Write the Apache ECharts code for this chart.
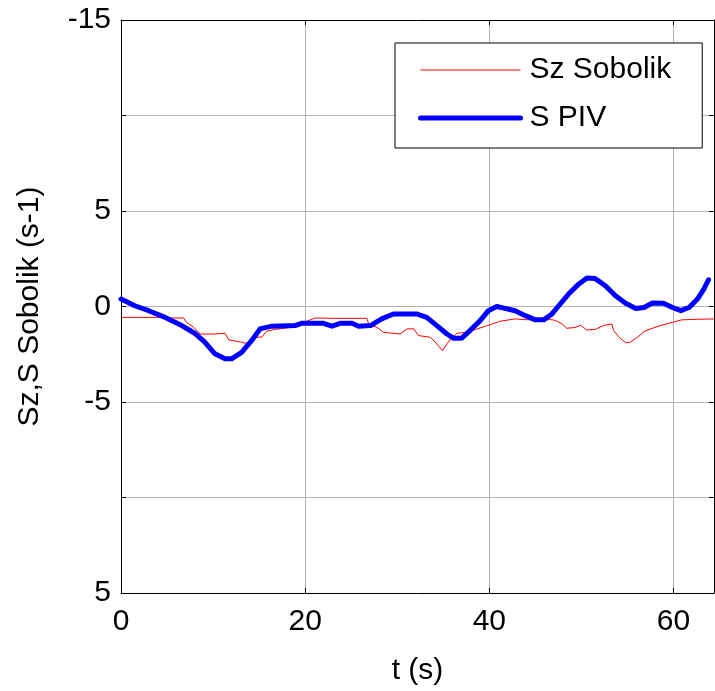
<!DOCTYPE html>
<html>
<head>
<meta charset="utf-8">
<script src="https://cdn.jsdelivr.net/npm/echarts@6/dist/echarts.min.js"></script>
<style>
html,body{margin:0;padding:0;background:#fff;}
#chart{width:715px;height:691px;}
</style>
</head>
<body>
<div id="chart"></div>
<script>
// Tick labels as printed on the reference y axis (values -15..15 step 5)
var yTickValues = [-15, -10, -5, 0, 5, 10, 15];
var yTickLabels = ['5', '', '-5', '0', '5', '', '-15'];
var xTickLabels = ['0', '20', '40', '60'];

// Sz Sobolik (red, thin)
var redT = [0, 2, 4, 5.1, 6.8, 7.1, 7.9, 8.6, 10.2, 11.3, 11.7, 13.1, 13.6, 14.2, 14.6, 15.3, 15.8, 16.7, 18.9, 19.6, 21.1, 23, 26.7, 26.9, 27.8, 28.5, 30.3, 31.1, 31.8, 32.3, 33.6, 34.3, 34.9, 35.4, 35.8, 36.5, 37.6, 38.7, 40.1, 41.2, 42.8, 44, 46.8, 47.2, 47.9, 48.4, 49.3, 49.9, 50.6, 51.5, 52.4, 53.3, 53.5, 54.1, 54.8, 55.3, 56.1, 56.8, 57.7, 58.8, 59.9, 60.9, 62.5, 64.4];
var redS = [-0.57, -0.57, -0.57, -0.6, -0.6, -0.83, -1.09, -1.44, -1.44, -1.4, -1.75, -1.87, -1.93, -1.75, -1.61, -1.6, -1.3, -1.2, -1.07, -0.88, -0.6, -0.62, -0.62, -0.91, -1.09, -1.35, -1.44, -1.17, -1.17, -1.52, -1.61, -1.96, -2.31, -1.96, -1.7, -1.4, -1.35, -1.17, -0.95, -0.77, -0.65, -0.69, -0.69, -0.74, -0.91, -1.14, -1.1, -0.98, -1.23, -1.2, -1.0, -0.91, -1.26, -1.61, -1.9, -1.87, -1.61, -1.31, -1.14, -0.97, -0.83, -0.7, -0.67, -0.65];

// S PIV (blue, thick)
var blueT = [0, 1.5, 3, 4.8, 6.6, 8, 9.1, 10.2, 11.3, 12, 13.1, 14.2, 15.1, 16.4, 18.9, 19.6, 22, 22.9, 23.8, 25.1, 25.8, 27.1, 28.3, 29.6, 32.1, 33.2, 34.3, 35.4, 36.1, 37, 37.9, 39, 39.9, 40.8, 41.7, 42.8, 43.9, 45, 45.9, 46.8, 47.7, 48.6, 49.7, 50.6, 51.5, 52.6, 53.7, 54.8, 55.9, 56.8, 57.7, 58.9, 59.9, 60.8, 61.7, 62.6, 63.3, 63.8];
var blueS = [0.39, 0.04, -0.22, -0.57, -1.0, -1.4, -1.87, -2.48, -2.74, -2.74, -2.4, -1.78, -1.17, -1.03, -1.0, -0.88, -0.88, -1.03, -0.88, -0.88, -1.03, -1.0, -0.65, -0.39, -0.39, -0.57, -1.0, -1.44, -1.66, -1.66, -1.26, -0.74, -0.22, 0.0, -0.1, -0.22, -0.48, -0.7, -0.7, -0.39, 0.13, 0.65, 1.17, 1.49, 1.46, 1.09, 0.56, 0.17, -0.1, -0.05, 0.18, 0.17, -0.05, -0.22, -0.05, 0.39, 0.91, 1.4];

function zip(a, b) { return a.map(function (v, i) { return [v, b[i]]; }); }

var FONT = "'Liberation Sans', Arial, sans-serif";
var tickStyle = { show: true, inside: true, length: 5, lineStyle: { color: '#000', width: 1 } };
var axisLine = { show: true, onZero: false, lineStyle: { color: '#000', width: 1 } };
var gridLine = { show: true, lineStyle: { color: '#b4b4b4', width: 1, type: 'solid' } };

function yLabel(v) {
  for (var i = 0; i < yTickValues.length; i++) {
    if (Math.abs(yTickValues[i] - v) < 1e-6) return yTickLabels[i];
  }
  return '';
}
function xLabel(v) {
  var idx = Math.round(v / 20);
  if (Math.abs(v - idx * 20) < 1e-6 && idx < xTickLabels.length) return xTickLabels[idx];
  return '';
}

var chart = echarts.init(document.getElementById('chart'), null, { renderer: 'canvas' });
chart.setOption({
  animation: false,
  backgroundColor: '#fff',
  textStyle: { fontFamily: FONT },
  grid: { left: 121, right: 1, top: 20, bottom: 96, containLabel: false },
  legend: {
    orient: 'vertical',
    left: 395,
    top: 43,
    padding: [12, 31, 15, 23],
    itemWidth: 100,
    itemHeight: 30,
    itemGap: 18,
    borderColor: '#000',
    borderWidth: 1,
    backgroundColor: '#fff',
    textStyle: { fontSize: 30, color: '#000', fontFamily: FONT, padding: [0, 0, 0, 4] },
    lineStyle: { width: 'inherit' },
    itemStyle: { opacity: 0 },
    data: ['Sz Sobolik', 'S PIV']
  },
  xAxis: [{
    type: 'value', min: 0, max: 64.4, interval: 20, position: 'bottom',
    name: 't (s)', nameLocation: 'middle', nameGap: 63,
    nameTextStyle: { fontSize: 30, color: '#000', fontFamily: FONT },
    axisLine: axisLine, axisTick: tickStyle, splitLine: gridLine,
    axisLabel: { fontSize: 30, color: '#000', margin: 14, fontFamily: FONT, formatter: xLabel, showMaxLabel: false }
  }, {
    type: 'value', min: 0, max: 64.4, interval: 20, position: 'top',
    axisLine: axisLine, axisTick: tickStyle, splitLine: { show: false },
    axisLabel: { show: false }
  }],
  yAxis: [{
    type: 'value', min: -15, max: 15, interval: 5, position: 'left',
    name: 'Sz,S Sobolik (s-1)', nameLocation: 'middle', nameGap: 76, nameRotate: 90,
    nameTextStyle: { fontSize: 30, color: '#000', fontFamily: FONT },
    axisLine: axisLine, axisTick: tickStyle, splitLine: gridLine,
    axisLabel: { fontSize: 30, color: '#000', margin: 10, fontFamily: FONT, formatter: yLabel }
  }, {
    type: 'value', min: -15, max: 15, interval: 5, position: 'right',
    axisLine: axisLine, axisTick: tickStyle, splitLine: { show: false },
    axisLabel: { show: false }
  }],
  series: [{
    name: 'Sz Sobolik', type: 'line', xAxisIndex: 0, yAxisIndex: 0,
    data: zip(redT, redS), showSymbol: false, symbol: 'none',
    lineStyle: { color: '#ff0000', width: 1 }, itemStyle: { color: '#ff0000' }, z: 3
  }, {
    name: 'S PIV', type: 'line', xAxisIndex: 0, yAxisIndex: 0,
    data: zip(blueT, blueS), showSymbol: false, symbol: 'none',
    lineStyle: { color: '#0000ff', width: 5, join: 'round', cap: 'round' }, itemStyle: { color: '#0000ff' }, z: 4
  }]
});
</script>
</body>
</html>
